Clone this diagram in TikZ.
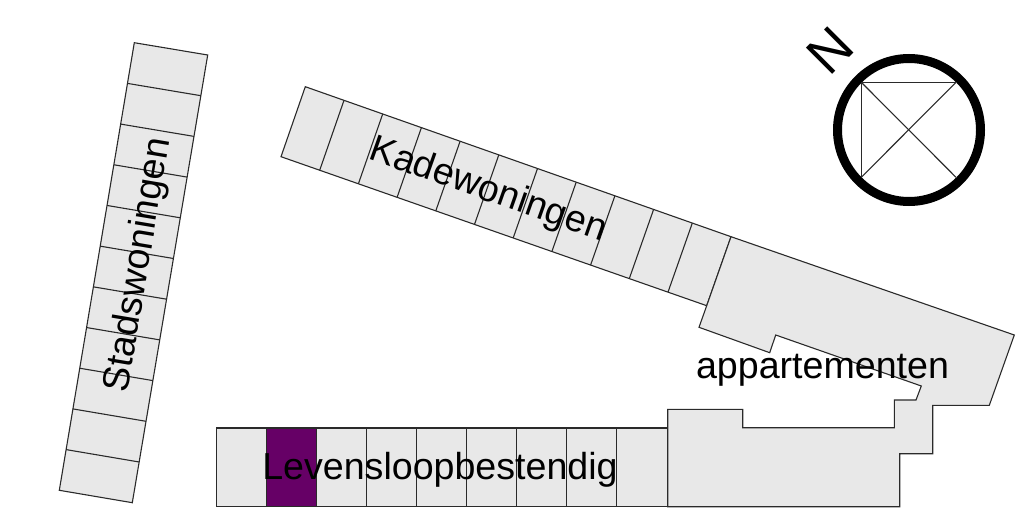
\documentclass[tikz,border=0pt]{standalone}
\usepackage{fontspec}
\setmainfont{Liberation Sans}
\definecolor{blockgray}{HTML}{E8E8E8}
\definecolor{kavelpaars}{HTML}{660066}
\definecolor{lijn}{HTML}{2A2A2A}
\tikzset{
  kavel/.style={draw=lijn, line width=1.1pt, fill=blockgray, line join=miter},
  scheiding/.style={draw=lijn, line width=1.1pt},
  naam/.style={font=\fontsize{37.6pt}{40pt}\selectfont, inner sep=0pt, text=black}
}

\begin{document}
\begin{tikzpicture}[x=1pt,y=-1pt]
\useasboundingbox (0,0) rectangle (1018,516);
% Stadswoningen
\draw [kavel] (134.3,42.7) -- (207.7,55) -- (132.3,502.7) -- (59.3,490.3) -- cycle;
\foreach \i in {1,...,10}
  \draw [scheiding] (134.3-6.82*\i,42.7+40.69*\i) -- (207.7-6.85*\i,55+40.7*\i);
% Kadewoningen en appartementen
\draw [kavel] (305.3,86.7) -- (731,236.7) -- (706.7,305.7) -- (281,156.7) -- cycle;
\foreach \i in {1,...,10}
  \draw [scheiding] (305.3+38.7*\i,86.7+13.64*\i) -- (281+38.7*\i,156.7+13.54*\i);
\draw [kavel] (731,236.7) -- (1014.3,335) -- (989.3,405.3) -- (932.7,405.3) -- (932.7,453.7)
  -- (899.7,453.7) -- (899.7,506.7) -- (667.7,506.7) -- (667.7,409.3) -- (742.7,409.3)
  -- (742.7,427.7) -- (894.3,427.7) -- (894.3,400) -- (916,400) -- (921.3,386)
  -- (775.7,335) -- (769.7,352.7) -- (699,327.3) -- (706.7,305.7) -- cycle;
% Levensloopbestendig
\draw [kavel] (216.7,428) rectangle (667.7,506.7);
\draw [kavel, fill=kavelpaars] (266.7,428) rectangle (316.7,506.7);
\foreach \x in {366.7,416.7,466.7,516.7,566.7,616.7}
  \draw [scheiding] (\x,428) -- (\x,506.7);
% noordpijl
\draw [black, line width=9pt] (909,130) circle [radius=71.5];
\draw [scheiding] (861.3,177.3) -- (861.3,82.3) -- (956,82.3);
\draw [scheiding] (861.3,82.3) -- (956,177.3);
\draw [scheiding] (861.3,177.3) -- (956,82.3);
\node [font=\fontsize{54pt}{54pt}\selectfont, inner sep=0pt, rotate=45] (noord) at (830,51) {N};
% namen
\node [naam, rotate=80.5] (stads) at (139,265) {Stadswoningen};
\node [naam, rotate=-19.5] (kade) at (488,191) {Kadewoningen};
\node [naam] (lsb) at (440,470) {Levensloopbestendig};
\node [naam] (app) at (822.5,370) {appartementen};
\end{tikzpicture}
\end{document}
